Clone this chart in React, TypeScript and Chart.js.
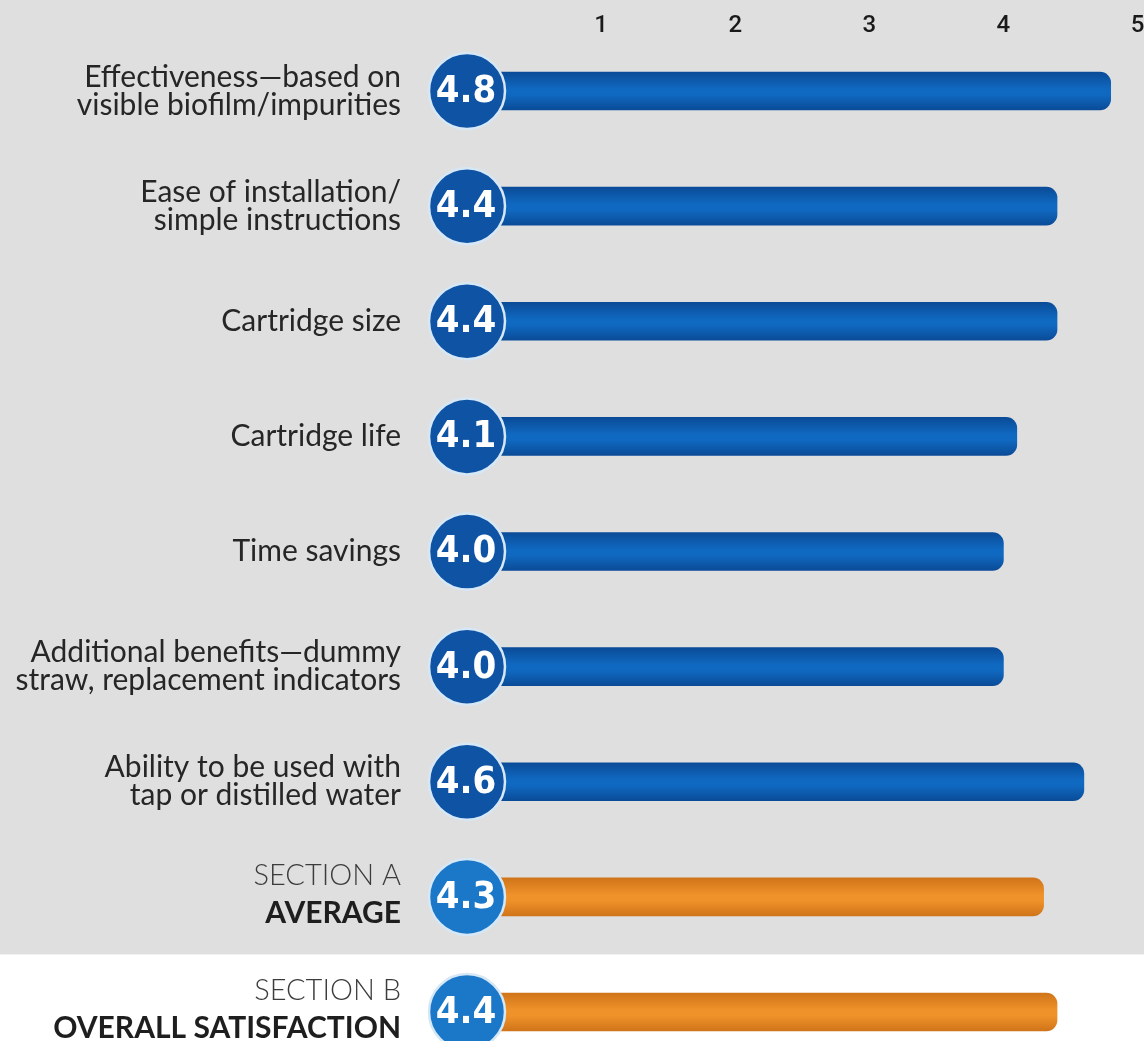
import React, { useEffect, useRef } from "react";
import { Chart, registerables } from "chart.js";

Chart.register(...registerables);

const categories: (string | string[])[] = [
  ["Effectiveness—based on", "visible biofilm/impurities"],
  ["Ease of installation/", "simple instructions"],
  "Cartridge size",
  "Cartridge life",
  "Time savings",
  ["Additional benefits—dummy", "straw, replacement indicators"],
  ["Ability to be used with", "tap or distilled water"],
  ["SECTION A", "AVERAGE"],
  ["SECTION B", "OVERALL SATISFACTION"],
];
const scores: number[] = [4.8, 4.4, 4.4, 4.1, 4.0, 4.0, 4.6, 4.3, 4.4];
const isSection: boolean[] = [false, false, false, false, false, false, false, true, true];
const xTicks: number[] = [1, 2, 3, 4, 5];

const BAR_H = 38;

const bgPlugin = {
  id: "bgPlugin",
  beforeDraw(chart: any) {
    const { ctx, width, height } = chart;
    const y = chart.scales.y;
    const split = (y.getPixelForValue(7) + y.getPixelForValue(8)) / 2;
    ctx.save();
    ctx.fillStyle = "#dfdfe0";
    ctx.fillRect(0, 0, width, height);
    ctx.fillStyle = "#ffffff";
    ctx.fillRect(0, split, width, height - split);
    ctx.restore();
  },
};

const badgePlugin = {
  id: "badgePlugin",
  afterDatasetsDraw(chart: any) {
    const { ctx } = chart;
    const xs = chart.scales.x;
    const ys = chart.scales.y;
    const cx = xs.getPixelForValue(0);
    ctx.save();
    scores.forEach((v, i) => {
      const cy = ys.getPixelForValue(i);
      ctx.beginPath();
      ctx.arc(cx, cy, 38, 0, Math.PI * 2);
      ctx.fillStyle = isSection[i] ? "#1b78c9" : "#0f53a5";
      ctx.fill();
      ctx.lineWidth = 2.5;
      ctx.strokeStyle = "#d6e7f6";
      ctx.stroke();
      ctx.fillStyle = "#ffffff";
      ctx.font = "bold 38px 'DejaVu Sans Condensed', 'DejaVu Sans', sans-serif";
      ctx.textAlign = "center";
      ctx.textBaseline = "middle";
      ctx.fillText(v.toFixed(1), cx - 1, cy + 1);
    });
    // section labels with mixed weights
    const rx = ys.right - 66;
    categories.forEach((c, i) => {
      if (!isSection[i] || !Array.isArray(c)) return;
      const cy = ys.getPixelForValue(i);
      ctx.textAlign = "right";
      ctx.textBaseline = "middle";
      ctx.fillStyle = "#3c3c3c";
      ctx.font = "300 29px Lato, sans-serif";
      ctx.fillText(c[0], rx, cy - 21);
      ctx.fillStyle = "#1e1e1e";
      ctx.font = "bold 30px Lato, sans-serif";
      ctx.fillText(c[1], rx, cy + 16);
    });
    ctx.restore();
  },
};

function barFill(context: any) {
  const i = context.dataIndex;
  const chart = context.chart;
  const edge = isSection[i] ? "#cf7419" : "#0a4b98";
  const mid = isSection[i] ? "#f0922a" : "#1069c0";
  if (!chart.chartArea || !chart.scales || !chart.scales.y) return mid;
  const cy = chart.scales.y.getPixelForValue(i);
  const g = chart.ctx.createLinearGradient(0, cy - BAR_H / 2, 0, cy + BAR_H / 2);
  g.addColorStop(0, edge);
  g.addColorStop(0.45, mid);
  g.addColorStop(0.6, mid);
  g.addColorStop(1, edge);
  return g;
}

function zeroPadding(s: any) {
  s.paddingLeft = 0;
  s.paddingRight = 0;
  s.paddingTop = 0;
  s.paddingBottom = 0;
}

export default function App() {
  const ref = useRef<HTMLCanvasElement | null>(null);
  useEffect(() => {
    document.body.style.margin = "0";
    const canvas = ref.current;
    if (!canvas) return;
    const chart = new Chart(canvas, {
      type: "bar",
      data: {
        labels: categories,
        datasets: [
          {
            data: scores,
            backgroundColor: barFill,
            borderWidth: 0,
            borderRadius: 11,
            borderSkipped: false,
            barThickness: BAR_H,
            clip: false as any,
          },
        ],
      },
      options: {
        indexAxis: "y",
        responsive: false,
        animation: false,
        devicePixelRatio: 1,
        layout: { padding: { left: 0, right: 6.5, top: 0, bottom: 29 } },
        plugins: { legend: { display: false }, tooltip: { enabled: false } },
        scales: {
          x: {
            position: "top",
            min: 0,
            max: 5,
            afterFit: (s: any) => {
              s.height = 91;
              zeroPadding(s);
            },
            afterBuildTicks: (s: any) => {
              s.ticks = [0, ...xTicks].map((v) => ({ value: v }));
            },
            grid: { display: false, drawTicks: false },
            border: { display: false },
            ticks: {
              padding: 51,
              maxRotation: 0,
              color: "#1a1a1a",
              font: { family: "Roboto, sans-serif", size: 24, weight: 500 },
              callback: (v: any) => (v === 0 ? "" : String(v)),
            },
          },
          y: {
            offset: false,
            afterFit: (s: any) => {
              s.width = 467;
              zeroPadding(s);
            },
            grid: { display: false, drawTicks: false },
            border: { display: false },
            ticks: {
              padding: 66,
              color: "#262626",
              font: { family: "Lato, sans-serif", size: 30, lineHeight: 0.93 },
              callback: function (this: any, v: any, i: number) {
                return isSection[i] ? "" : (categories[i] as any);
              },
            },
          },
        },
      },
      plugins: [bgPlugin, badgePlugin],
    });
    return () => chart.destroy();
  }, []);
  return (
    <div style={{ width: 1144, height: 1041 }}>
      <canvas ref={ref} width={1144} height={1041} style={{ display: "block" }} />
    </div>
  );
}
